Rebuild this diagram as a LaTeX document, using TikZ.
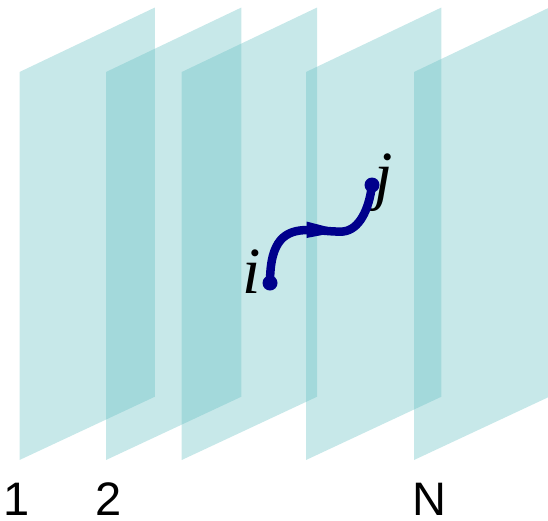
\documentclass[tikz,border=0pt]{standalone}
\usepackage{fontspec}
\setmainfont{Liberation Serif}
\newfontfamily\labsans{Liberation Sans}
\definecolor{planec}{RGB}{95,189,192}
\definecolor{curvec}{RGB}{0,0,140}
\tikzset{
  plane/.style={fill=planec, fill opacity=0.35, draw=none},
  dot/.style={circle, fill=curvec, inner sep=0pt, minimum size=15pt},
  numlbl/.style={font=\labsans\fontsize{47}{47}\selectfont, anchor=base, inner sep=0pt, text depth=0pt},
  varlbl/.style={font=\itshape\fontsize{66}{66}\selectfont, anchor=base, inner sep=0pt},
  link/.style={draw=curvec, line width=8.5pt},
  headtri/.style={fill=curvec, draw=none}
}
\begin{document}
\begin{tikzpicture}[x=1pt,y=-1pt]
\useasboundingbox (0,0) rectangle (548,520);
\clip (0,0) rectangle (548,520);
\foreach \L in {19.5,106,181.7,306,414}{
  \path[plane] (\L,72) -- ++(135.4,-64.5) -- ++(0,389.2) -- ++(-135.4,63.3) -- cycle;
}
\node[numlbl] (n1) at (16.7,515.5) {1};
\node[numlbl] (n2) at (108.5,515.5) {2};
\node[numlbl] (nN) at (429,515.5) {N};
\node[varlbl] (li) at (252,293) {i};
\node[varlbl] (lj) at (384,197) {j};
\node[dot] (i) at (270,283) {};
\node[dot] (j) at (372,185) {};
\coordinate (t) at (343,231);
\draw[link] (i.center) .. controls (270,240) and (285,230) .. (308,230)
   .. controls (322,230) and (332,232) .. (343,231.5)
   .. controls (359,230) and (369,210) .. (j.center);
\path[headtri] (306.5,221.5) -- (t) -- (306.5,238) -- cycle;
\end{tikzpicture}
\end{document}
